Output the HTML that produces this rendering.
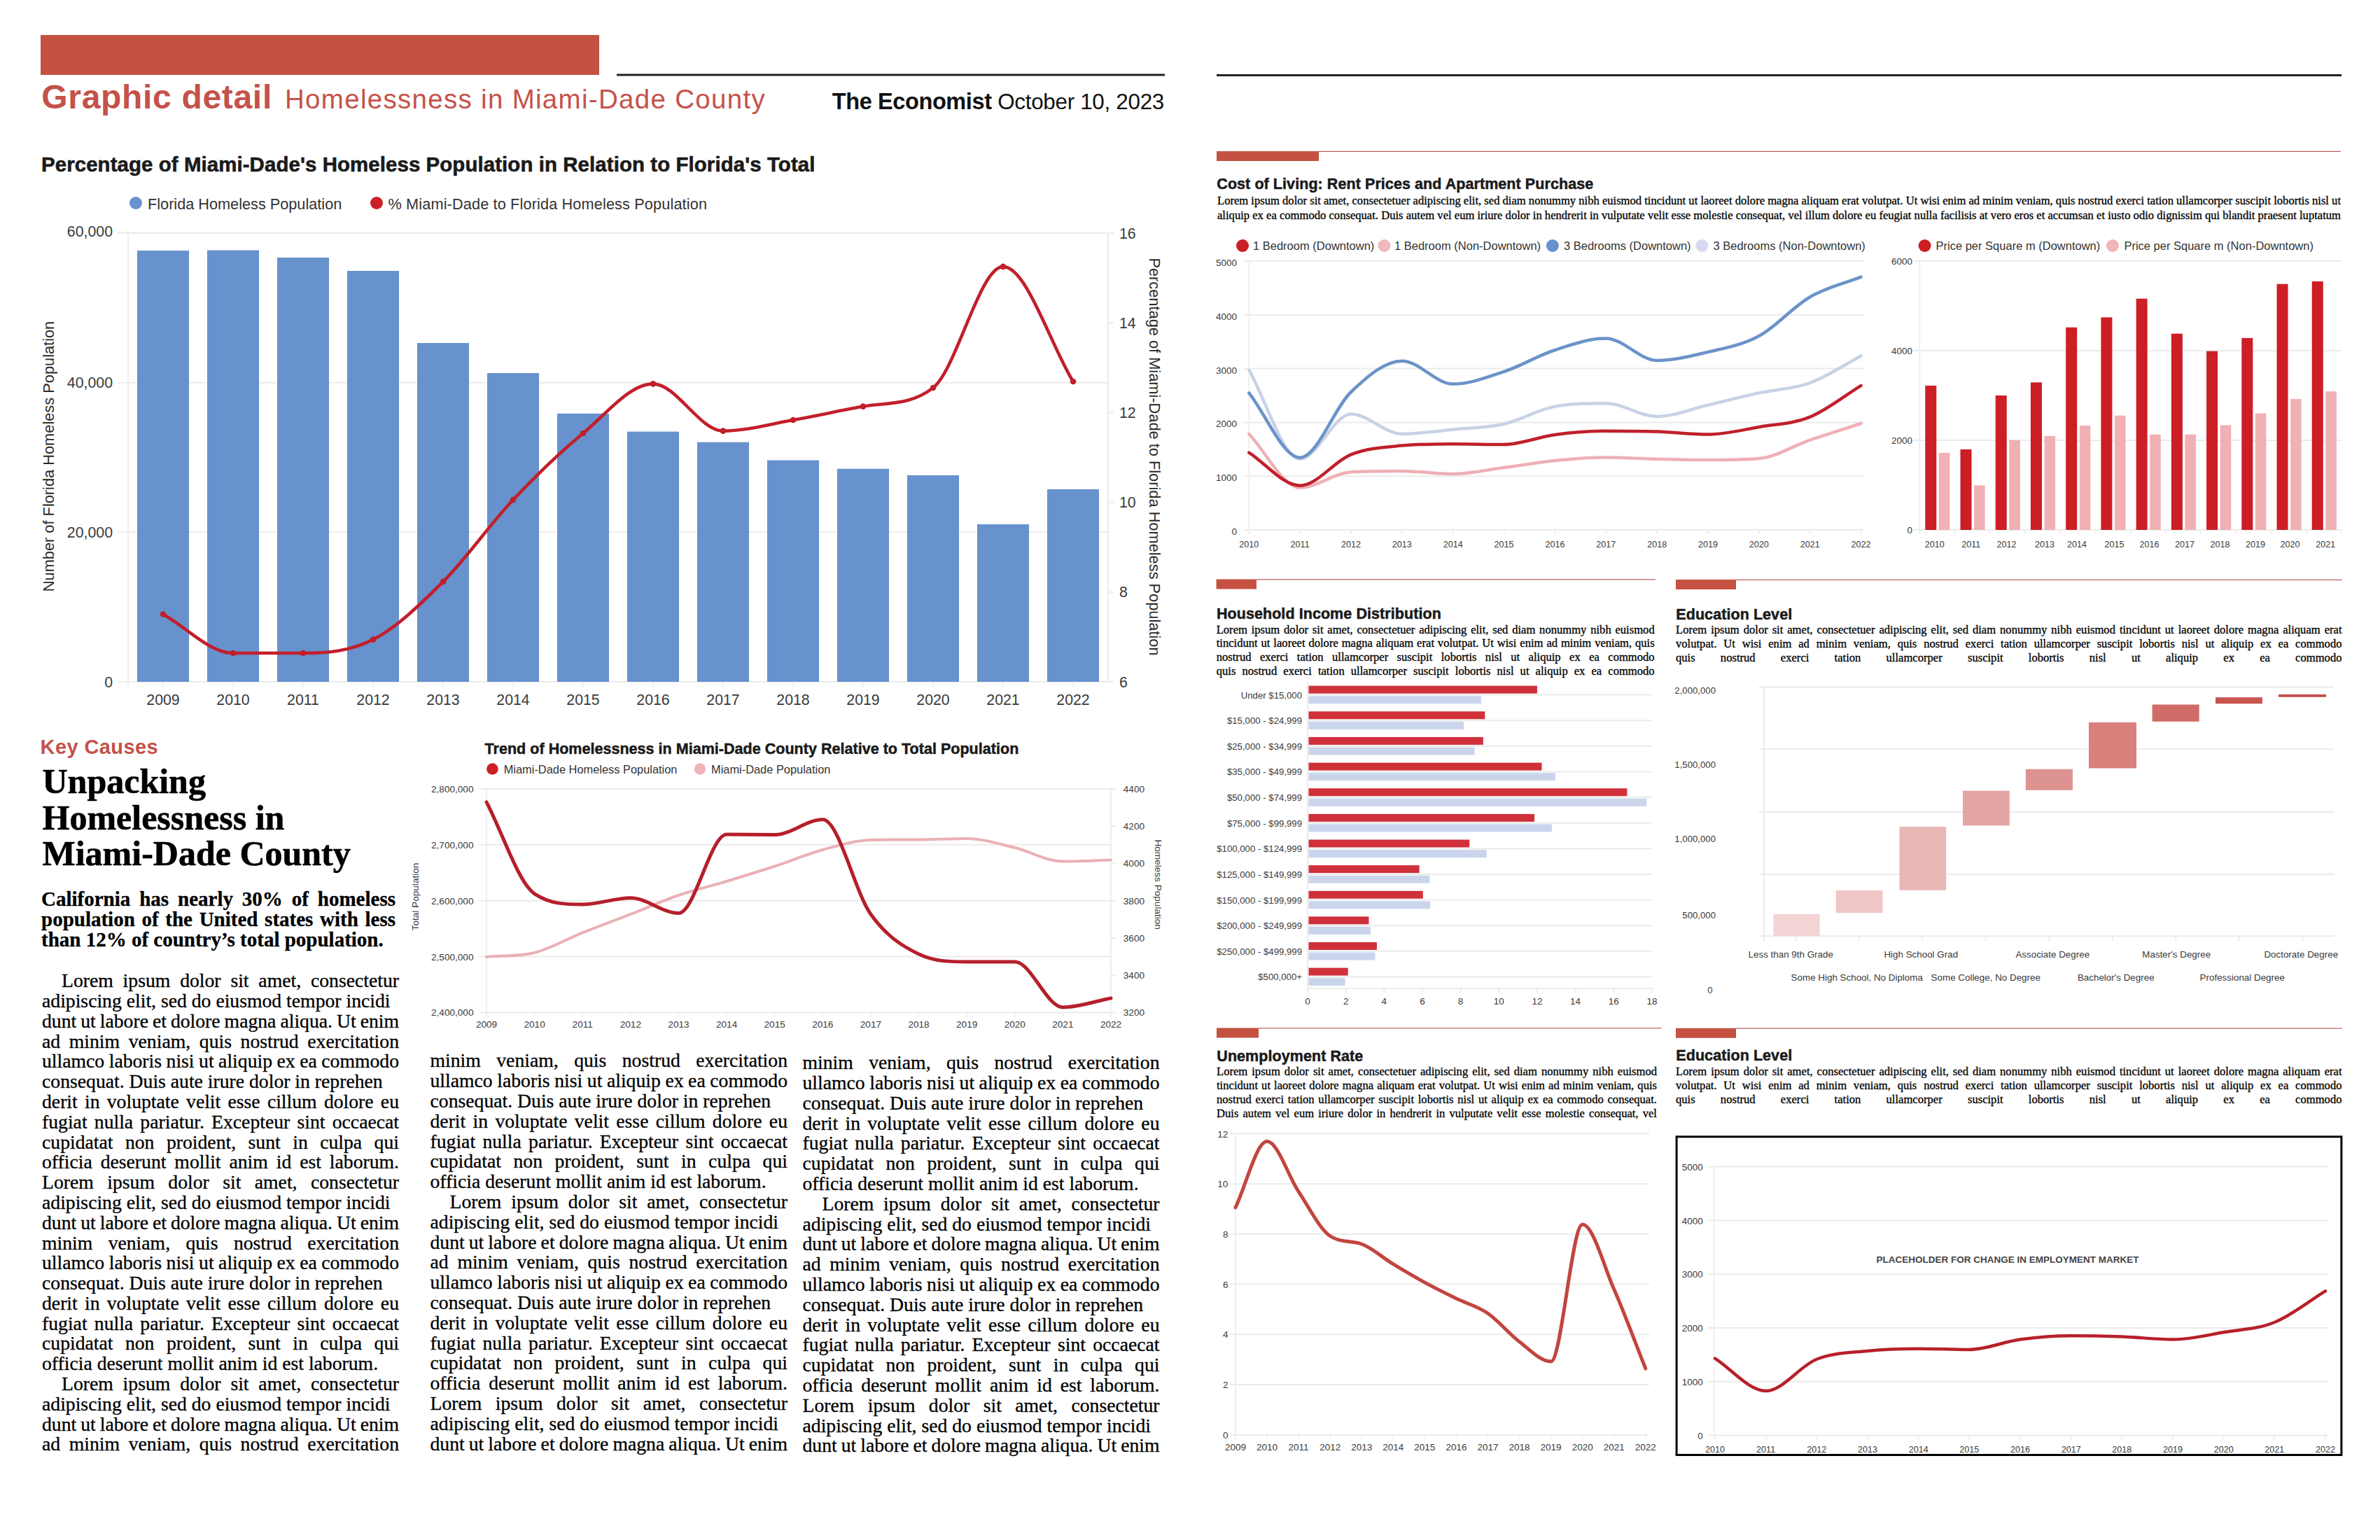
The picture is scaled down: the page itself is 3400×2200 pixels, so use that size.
<!DOCTYPE html>
<html><head><meta charset="utf-8"><title>Graphic detail - Homelessness in Miami-Dade County</title>
<style>
html,body{margin:0;padding:0;background:#fff;}
body{width:3400px;height:2200px;position:relative;overflow:hidden;}
svg{position:absolute;left:0;top:0;}
div{box-sizing:border-box;-webkit-text-stroke:0.3px #000;}
</style></head><body>
<svg width="3400" height="2200" viewBox="0 0 3400 2200">
<rect x="58" y="50" width="798" height="57" fill="#c45142" />
<rect x="881" y="105.5" width="783" height="3" fill="#222" />
<rect x="1738" y="106" width="1607" height="3" fill="#222" />
<text x="59.3" y="155" font-family='"Liberation Sans", Arial, sans-serif' font-size="48" font-weight="700" fill="#c4524a" text-anchor="start" letter-spacing="0.68" >Graphic detail</text>
<text x="407" y="155" font-family='"Liberation Sans", Arial, sans-serif' font-size="38.5" font-weight="400" fill="#c4524a" text-anchor="start" letter-spacing="1.3" >Homelessness in Miami-Dade County</text>
<text x="1663" y="155.5" font-family='"Liberation Sans", Arial, sans-serif' font-size="31" font-weight="400" fill="#111" text-anchor="end" ><tspan font-weight="700" font-size="32.5" letter-spacing="-0.4">The Economist</tspan> <tspan font-size="31.4" letter-spacing="-0.3">October 10, 2023</tspan></text>
<text x="59" y="244.6" font-family='"Liberation Sans", Arial, sans-serif' font-size="29.4" font-weight="700" fill="#1a1a1a" text-anchor="start" letter-spacing="0.1" stroke="#1a1a1a" stroke-width="0.6" >Percentage of Miami-Dade&#39;s Homeless Population in Relation to Florida&#39;s Total</text>
<circle cx="194" cy="290" r="9" fill="#6792cd" />
<text x="211" y="298.5" font-family='"Liberation Sans", Arial, sans-serif' font-size="21.7" font-weight="400" fill="#333" text-anchor="start" >Florida Homeless Population</text>
<circle cx="538" cy="290" r="9" fill="#cc2027" />
<text x="554.5" y="298.5" font-family='"Liberation Sans", Arial, sans-serif' font-size="21.7" font-weight="400" fill="#333" text-anchor="start" letter-spacing="0.14" >% Miami-Dade to Florida Homeless Population</text>
<line x1="168" y1="333" x2="1583" y2="333" stroke="#ebebeb" stroke-width="2" />
<text x="161" y="338" font-family='"Liberation Sans", Arial, sans-serif' font-size="21.3" font-weight="400" fill="#3a3a3a" text-anchor="end" >60,000</text>
<line x1="168" y1="546.67" x2="1583" y2="546.67" stroke="#ebebeb" stroke-width="2" />
<text x="161" y="554.27" font-family='"Liberation Sans", Arial, sans-serif' font-size="21.3" font-weight="400" fill="#3a3a3a" text-anchor="end" >40,000</text>
<line x1="168" y1="760.33" x2="1583" y2="760.33" stroke="#ebebeb" stroke-width="2" />
<text x="161" y="767.93" font-family='"Liberation Sans", Arial, sans-serif' font-size="21.3" font-weight="400" fill="#3a3a3a" text-anchor="end" >20,000</text>
<line x1="168" y1="974" x2="1583" y2="974" stroke="#ebebeb" stroke-width="2" />
<text x="161" y="981.6" font-family='"Liberation Sans", Arial, sans-serif' font-size="21.3" font-weight="400" fill="#3a3a3a" text-anchor="end" >0</text>
<line x1="183" y1="333" x2="183" y2="982" stroke="#efefef" stroke-width="2" />
<line x1="1583" y1="333" x2="1583" y2="974" stroke="#ebebeb" stroke-width="2" />
<line x1="1583" y1="333" x2="1591" y2="333" stroke="#ebebeb" stroke-width="2" />
<text x="1599" y="340.6" font-family='"Liberation Sans", Arial, sans-serif' font-size="21.3" font-weight="400" fill="#3a3a3a" text-anchor="start" >16</text>
<line x1="1583" y1="461.2" x2="1591" y2="461.2" stroke="#ebebeb" stroke-width="2" />
<text x="1599" y="468.8" font-family='"Liberation Sans", Arial, sans-serif' font-size="21.3" font-weight="400" fill="#3a3a3a" text-anchor="start" >14</text>
<line x1="1583" y1="589.4" x2="1591" y2="589.4" stroke="#ebebeb" stroke-width="2" />
<text x="1599" y="597" font-family='"Liberation Sans", Arial, sans-serif' font-size="21.3" font-weight="400" fill="#3a3a3a" text-anchor="start" >12</text>
<line x1="1583" y1="717.6" x2="1591" y2="717.6" stroke="#ebebeb" stroke-width="2" />
<text x="1599" y="725.2" font-family='"Liberation Sans", Arial, sans-serif' font-size="21.3" font-weight="400" fill="#3a3a3a" text-anchor="start" >10</text>
<line x1="1583" y1="845.8" x2="1591" y2="845.8" stroke="#ebebeb" stroke-width="2" />
<text x="1599" y="853.4" font-family='"Liberation Sans", Arial, sans-serif' font-size="21.3" font-weight="400" fill="#3a3a3a" text-anchor="start" >8</text>
<line x1="1583" y1="974" x2="1591" y2="974" stroke="#ebebeb" stroke-width="2" />
<text x="1599" y="981.6" font-family='"Liberation Sans", Arial, sans-serif' font-size="21.3" font-weight="400" fill="#3a3a3a" text-anchor="start" >6</text>
<rect x="196" y="358" width="74" height="616" fill="#6792cd" />
<line x1="233" y1="974" x2="233" y2="982" stroke="#efefef" stroke-width="2" />
<text x="233" y="1007" font-family='"Liberation Sans", Arial, sans-serif' font-size="21.3" font-weight="400" fill="#3a3a3a" text-anchor="middle" >2009</text>
<rect x="296" y="357.5" width="74" height="616.5" fill="#6792cd" />
<line x1="333" y1="974" x2="333" y2="982" stroke="#efefef" stroke-width="2" />
<text x="333" y="1007" font-family='"Liberation Sans", Arial, sans-serif' font-size="21.3" font-weight="400" fill="#3a3a3a" text-anchor="middle" >2010</text>
<rect x="396" y="368" width="74" height="606" fill="#6792cd" />
<line x1="433" y1="974" x2="433" y2="982" stroke="#efefef" stroke-width="2" />
<text x="433" y="1007" font-family='"Liberation Sans", Arial, sans-serif' font-size="21.3" font-weight="400" fill="#3a3a3a" text-anchor="middle" >2011</text>
<rect x="496" y="387" width="74" height="587" fill="#6792cd" />
<line x1="533" y1="974" x2="533" y2="982" stroke="#efefef" stroke-width="2" />
<text x="533" y="1007" font-family='"Liberation Sans", Arial, sans-serif' font-size="21.3" font-weight="400" fill="#3a3a3a" text-anchor="middle" >2012</text>
<rect x="596" y="490" width="74" height="484" fill="#6792cd" />
<line x1="633" y1="974" x2="633" y2="982" stroke="#efefef" stroke-width="2" />
<text x="633" y="1007" font-family='"Liberation Sans", Arial, sans-serif' font-size="21.3" font-weight="400" fill="#3a3a3a" text-anchor="middle" >2013</text>
<rect x="696" y="533" width="74" height="441" fill="#6792cd" />
<line x1="733" y1="974" x2="733" y2="982" stroke="#efefef" stroke-width="2" />
<text x="733" y="1007" font-family='"Liberation Sans", Arial, sans-serif' font-size="21.3" font-weight="400" fill="#3a3a3a" text-anchor="middle" >2014</text>
<rect x="796" y="590.8" width="74" height="383.2" fill="#6792cd" />
<line x1="833" y1="974" x2="833" y2="982" stroke="#efefef" stroke-width="2" />
<text x="833" y="1007" font-family='"Liberation Sans", Arial, sans-serif' font-size="21.3" font-weight="400" fill="#3a3a3a" text-anchor="middle" >2015</text>
<rect x="896" y="616.6" width="74" height="357.4" fill="#6792cd" />
<line x1="933" y1="974" x2="933" y2="982" stroke="#efefef" stroke-width="2" />
<text x="933" y="1007" font-family='"Liberation Sans", Arial, sans-serif' font-size="21.3" font-weight="400" fill="#3a3a3a" text-anchor="middle" >2016</text>
<rect x="996" y="631.7" width="74" height="342.3" fill="#6792cd" />
<line x1="1033" y1="974" x2="1033" y2="982" stroke="#efefef" stroke-width="2" />
<text x="1033" y="1007" font-family='"Liberation Sans", Arial, sans-serif' font-size="21.3" font-weight="400" fill="#3a3a3a" text-anchor="middle" >2017</text>
<rect x="1096" y="657.5" width="74" height="316.5" fill="#6792cd" />
<line x1="1133" y1="974" x2="1133" y2="982" stroke="#efefef" stroke-width="2" />
<text x="1133" y="1007" font-family='"Liberation Sans", Arial, sans-serif' font-size="21.3" font-weight="400" fill="#3a3a3a" text-anchor="middle" >2018</text>
<rect x="1196" y="669.7" width="74" height="304.3" fill="#6792cd" />
<line x1="1233" y1="974" x2="1233" y2="982" stroke="#efefef" stroke-width="2" />
<text x="1233" y="1007" font-family='"Liberation Sans", Arial, sans-serif' font-size="21.3" font-weight="400" fill="#3a3a3a" text-anchor="middle" >2019</text>
<rect x="1296" y="679" width="74" height="295" fill="#6792cd" />
<line x1="1333" y1="974" x2="1333" y2="982" stroke="#efefef" stroke-width="2" />
<text x="1333" y="1007" font-family='"Liberation Sans", Arial, sans-serif' font-size="21.3" font-weight="400" fill="#3a3a3a" text-anchor="middle" >2020</text>
<rect x="1396" y="749" width="74" height="225" fill="#6792cd" />
<line x1="1433" y1="974" x2="1433" y2="982" stroke="#efefef" stroke-width="2" />
<text x="1433" y="1007" font-family='"Liberation Sans", Arial, sans-serif' font-size="21.3" font-weight="400" fill="#3a3a3a" text-anchor="middle" >2021</text>
<rect x="1496" y="699" width="74" height="275" fill="#6792cd" />
<line x1="1533" y1="974" x2="1533" y2="982" stroke="#efefef" stroke-width="2" />
<text x="1533" y="1007" font-family='"Liberation Sans", Arial, sans-serif' font-size="21.3" font-weight="400" fill="#3a3a3a" text-anchor="middle" >2022</text>
<path d="M233,877.5 C266.33,896 299.67,933 333,933 C366.33,933 399.67,933 433,933 C466.33,933 499.67,930.6 533,913.6 C566.33,896.6 599.67,864.27 633,831 C666.33,797.73 699.67,749.33 733,714 C766.33,678.67 799.67,646.6 833,619 C866.33,591.4 899.67,548.4 933,548.4 C966.33,548.4 999.67,615.6 1033,615.6 C1066.33,615.6 1099.67,605.83 1133,600 C1166.33,594.17 1199.67,586.57 1233,580.6 C1266.33,574.63 1299.67,579.92 1333,554 C1366.33,528.08 1399.67,380.9 1433,380.9 C1466.33,380.9 1499.67,490.3 1533,545" fill="none" stroke="#c21f2a" stroke-width="4.6" stroke-linejoin="round" stroke-linecap="round" />
<circle cx="233" cy="877.5" r="4.3" fill="#c21f2a" />
<circle cx="333" cy="933" r="4.3" fill="#c21f2a" />
<circle cx="433" cy="933" r="4.3" fill="#c21f2a" />
<circle cx="533" cy="913.6" r="4.3" fill="#c21f2a" />
<circle cx="633" cy="831" r="4.3" fill="#c21f2a" />
<circle cx="733" cy="714" r="4.3" fill="#c21f2a" />
<circle cx="833" cy="619" r="4.3" fill="#c21f2a" />
<circle cx="933" cy="548.4" r="4.3" fill="#c21f2a" />
<circle cx="1033" cy="615.6" r="4.3" fill="#c21f2a" />
<circle cx="1133" cy="600" r="4.3" fill="#c21f2a" />
<circle cx="1233" cy="580.6" r="4.3" fill="#c21f2a" />
<circle cx="1333" cy="554" r="4.3" fill="#c21f2a" />
<circle cx="1433" cy="380.9" r="4.3" fill="#c21f2a" />
<circle cx="1533" cy="545" r="4.3" fill="#c21f2a" />
<text transform="translate(69,652) rotate(-90)" font-family='"Liberation Sans", Arial, sans-serif' font-size="21.8" font-weight="400" fill="#2a2a2a" text-anchor="middle" dominant-baseline="central">Number of Florida Homeless Population</text>
<text transform="translate(1649.5,652.5) rotate(90)" font-family='"Liberation Sans", Arial, sans-serif' font-size="21.8" font-weight="400" fill="#2a2a2a" text-anchor="middle" dominant-baseline="central">Percentage of Miami-Dade to Florida Homeless Population</text>
<text x="57.6" y="1076.6" font-family='"Liberation Sans", Arial, sans-serif' font-size="29" font-weight="700" fill="#c4524a" text-anchor="start" letter-spacing="0.4" >Key Causes</text>
<text x="60.5" y="1133.4" font-family='"Liberation Serif", "Times New Roman", serif' font-size="50" font-weight="700" fill="#000" text-anchor="start" stroke="#000" stroke-width="0.6" >Unpacking</text>
<text x="60.5" y="1184.5" font-family='"Liberation Serif", "Times New Roman", serif' font-size="50" font-weight="700" fill="#000" text-anchor="start" stroke="#000" stroke-width="0.6" >Homelessness in</text>
<text x="60.5" y="1236" font-family='"Liberation Serif", "Times New Roman", serif' font-size="50" font-weight="700" fill="#000" text-anchor="start" stroke="#000" stroke-width="0.6" >Miami-Dade County</text>
<text x="692.6" y="1076.5" font-family='"Liberation Sans", Arial, sans-serif' font-size="21.5" font-weight="700" fill="#1a1a1a" text-anchor="start" letter-spacing="0.03" stroke="#1a1a1a" stroke-width="0.5" >Trend of Homelessness in Miami-Dade County Relative to Total Population</text>
<circle cx="703.4" cy="1098.5" r="8.3" fill="#cc1f26" />
<text x="719.7" y="1104.6" font-family='"Liberation Sans", Arial, sans-serif' font-size="16.4" font-weight="400" fill="#333" text-anchor="start" >Miami-Dade Homeless Population</text>
<circle cx="1000" cy="1098.5" r="8.2" fill="#f0b4b8" />
<text x="1016" y="1104.6" font-family='"Liberation Sans", Arial, sans-serif' font-size="16.4" font-weight="400" fill="#333" text-anchor="start" >Miami-Dade Population</text>
<line x1="685" y1="1127" x2="1587" y2="1127" stroke="#ebebeb" stroke-width="2" />
<text x="676.5" y="1132" font-family='"Liberation Sans", Arial, sans-serif' font-size="13.6" font-weight="400" fill="#3a3a3a" text-anchor="end" >2,800,000</text>
<line x1="685" y1="1206.85" x2="1587" y2="1206.85" stroke="#ebebeb" stroke-width="2" />
<text x="676.5" y="1211.85" font-family='"Liberation Sans", Arial, sans-serif' font-size="13.6" font-weight="400" fill="#3a3a3a" text-anchor="end" >2,700,000</text>
<line x1="685" y1="1286.7" x2="1587" y2="1286.7" stroke="#ebebeb" stroke-width="2" />
<text x="676.5" y="1291.7" font-family='"Liberation Sans", Arial, sans-serif' font-size="13.6" font-weight="400" fill="#3a3a3a" text-anchor="end" >2,600,000</text>
<line x1="685" y1="1366.55" x2="1587" y2="1366.55" stroke="#ebebeb" stroke-width="2" />
<text x="676.5" y="1371.55" font-family='"Liberation Sans", Arial, sans-serif' font-size="13.6" font-weight="400" fill="#3a3a3a" text-anchor="end" >2,500,000</text>
<line x1="685" y1="1446.4" x2="1587" y2="1446.4" stroke="#ebebeb" stroke-width="2" />
<text x="676.5" y="1451.4" font-family='"Liberation Sans", Arial, sans-serif' font-size="13.6" font-weight="400" fill="#3a3a3a" text-anchor="end" >2,400,000</text>
<line x1="695" y1="1127" x2="695" y2="1453.4" stroke="#efefef" stroke-width="2" />
<line x1="1587" y1="1127" x2="1587" y2="1453.4" stroke="#efefef" stroke-width="2" />
<line x1="1587" y1="1127" x2="1594" y2="1127" stroke="#ebebeb" stroke-width="2" />
<text x="1604.8" y="1132" font-family='"Liberation Sans", Arial, sans-serif' font-size="13.6" font-weight="400" fill="#3a3a3a" text-anchor="start" >4400</text>
<line x1="1587" y1="1180.23" x2="1594" y2="1180.23" stroke="#ebebeb" stroke-width="2" />
<text x="1604.8" y="1185.23" font-family='"Liberation Sans", Arial, sans-serif' font-size="13.6" font-weight="400" fill="#3a3a3a" text-anchor="start" >4200</text>
<line x1="1587" y1="1233.47" x2="1594" y2="1233.47" stroke="#ebebeb" stroke-width="2" />
<text x="1604.8" y="1238.47" font-family='"Liberation Sans", Arial, sans-serif' font-size="13.6" font-weight="400" fill="#3a3a3a" text-anchor="start" >4000</text>
<line x1="1587" y1="1286.7" x2="1594" y2="1286.7" stroke="#ebebeb" stroke-width="2" />
<text x="1604.8" y="1291.7" font-family='"Liberation Sans", Arial, sans-serif' font-size="13.6" font-weight="400" fill="#3a3a3a" text-anchor="start" >3800</text>
<line x1="1587" y1="1339.93" x2="1594" y2="1339.93" stroke="#ebebeb" stroke-width="2" />
<text x="1604.8" y="1344.93" font-family='"Liberation Sans", Arial, sans-serif' font-size="13.6" font-weight="400" fill="#3a3a3a" text-anchor="start" >3600</text>
<line x1="1587" y1="1393.17" x2="1594" y2="1393.17" stroke="#ebebeb" stroke-width="2" />
<text x="1604.8" y="1398.17" font-family='"Liberation Sans", Arial, sans-serif' font-size="13.6" font-weight="400" fill="#3a3a3a" text-anchor="start" >3400</text>
<line x1="1587" y1="1446.4" x2="1594" y2="1446.4" stroke="#ebebeb" stroke-width="2" />
<text x="1604.8" y="1451.4" font-family='"Liberation Sans", Arial, sans-serif' font-size="13.6" font-weight="400" fill="#3a3a3a" text-anchor="start" >3200</text>
<line x1="695" y1="1446.4" x2="695" y2="1453.4" stroke="#efefef" stroke-width="2" />
<text x="695" y="1468" font-family='"Liberation Sans", Arial, sans-serif' font-size="13.6" font-weight="400" fill="#3a3a3a" text-anchor="middle" >2009</text>
<line x1="763.62" y1="1446.4" x2="763.62" y2="1453.4" stroke="#efefef" stroke-width="2" />
<text x="763.62" y="1468" font-family='"Liberation Sans", Arial, sans-serif' font-size="13.6" font-weight="400" fill="#3a3a3a" text-anchor="middle" >2010</text>
<line x1="832.23" y1="1446.4" x2="832.23" y2="1453.4" stroke="#efefef" stroke-width="2" />
<text x="832.23" y="1468" font-family='"Liberation Sans", Arial, sans-serif' font-size="13.6" font-weight="400" fill="#3a3a3a" text-anchor="middle" >2011</text>
<line x1="900.85" y1="1446.4" x2="900.85" y2="1453.4" stroke="#efefef" stroke-width="2" />
<text x="900.85" y="1468" font-family='"Liberation Sans", Arial, sans-serif' font-size="13.6" font-weight="400" fill="#3a3a3a" text-anchor="middle" >2012</text>
<line x1="969.46" y1="1446.4" x2="969.46" y2="1453.4" stroke="#efefef" stroke-width="2" />
<text x="969.46" y="1468" font-family='"Liberation Sans", Arial, sans-serif' font-size="13.6" font-weight="400" fill="#3a3a3a" text-anchor="middle" >2013</text>
<line x1="1038.08" y1="1446.4" x2="1038.08" y2="1453.4" stroke="#efefef" stroke-width="2" />
<text x="1038.08" y="1468" font-family='"Liberation Sans", Arial, sans-serif' font-size="13.6" font-weight="400" fill="#3a3a3a" text-anchor="middle" >2014</text>
<line x1="1106.69" y1="1446.4" x2="1106.69" y2="1453.4" stroke="#efefef" stroke-width="2" />
<text x="1106.69" y="1468" font-family='"Liberation Sans", Arial, sans-serif' font-size="13.6" font-weight="400" fill="#3a3a3a" text-anchor="middle" >2015</text>
<line x1="1175.31" y1="1446.4" x2="1175.31" y2="1453.4" stroke="#efefef" stroke-width="2" />
<text x="1175.31" y="1468" font-family='"Liberation Sans", Arial, sans-serif' font-size="13.6" font-weight="400" fill="#3a3a3a" text-anchor="middle" >2016</text>
<line x1="1243.92" y1="1446.4" x2="1243.92" y2="1453.4" stroke="#efefef" stroke-width="2" />
<text x="1243.92" y="1468" font-family='"Liberation Sans", Arial, sans-serif' font-size="13.6" font-weight="400" fill="#3a3a3a" text-anchor="middle" >2017</text>
<line x1="1312.54" y1="1446.4" x2="1312.54" y2="1453.4" stroke="#efefef" stroke-width="2" />
<text x="1312.54" y="1468" font-family='"Liberation Sans", Arial, sans-serif' font-size="13.6" font-weight="400" fill="#3a3a3a" text-anchor="middle" >2018</text>
<line x1="1381.15" y1="1446.4" x2="1381.15" y2="1453.4" stroke="#efefef" stroke-width="2" />
<text x="1381.15" y="1468" font-family='"Liberation Sans", Arial, sans-serif' font-size="13.6" font-weight="400" fill="#3a3a3a" text-anchor="middle" >2019</text>
<line x1="1449.77" y1="1446.4" x2="1449.77" y2="1453.4" stroke="#efefef" stroke-width="2" />
<text x="1449.77" y="1468" font-family='"Liberation Sans", Arial, sans-serif' font-size="13.6" font-weight="400" fill="#3a3a3a" text-anchor="middle" >2020</text>
<line x1="1518.38" y1="1446.4" x2="1518.38" y2="1453.4" stroke="#efefef" stroke-width="2" />
<text x="1518.38" y="1468" font-family='"Liberation Sans", Arial, sans-serif' font-size="13.6" font-weight="400" fill="#3a3a3a" text-anchor="middle" >2021</text>
<line x1="1587" y1="1446.4" x2="1587" y2="1453.4" stroke="#efefef" stroke-width="2" />
<text x="1587" y="1468" font-family='"Liberation Sans", Arial, sans-serif' font-size="13.6" font-weight="400" fill="#3a3a3a" text-anchor="middle" >2022</text>
<path d="M695,1367 C717.87,1365.03 740.74,1366.67 763.62,1361 C786.49,1355.33 809.36,1341.57 832.23,1332.4 C855.1,1323.23 877.97,1314.9 900.85,1306 C923.72,1297.1 946.59,1286.83 969.46,1279 C992.33,1271.17 1015.21,1265.92 1038.08,1259 C1060.95,1252.08 1083.82,1245 1106.69,1237.5 C1129.56,1230 1152.44,1220.25 1175.31,1214 C1198.18,1207.75 1221.05,1200.59 1243.92,1200 C1266.79,1199.41 1289.67,1199.48 1312.54,1199.4 C1335.41,1199.32 1358.28,1198 1381.15,1198 C1404.03,1198 1426.9,1205.57 1449.77,1211 C1472.64,1216.43 1495.51,1230.6 1518.38,1230.6 C1541.26,1230.6 1564.13,1229.27 1587,1228.6" fill="none" stroke="#eab0b5" stroke-width="4" stroke-linejoin="round" stroke-linecap="round" />
<path d="M695,1145.8 C717.87,1189.47 740.74,1261.6 763.62,1276.8 C786.49,1292 809.36,1292 832.23,1292 C855.1,1292 877.97,1282.7 900.85,1282.7 C923.72,1282.7 946.59,1304.6 969.46,1304.6 C992.33,1304.6 1015.21,1192 1038.08,1192 C1060.95,1192 1083.82,1192.6 1106.69,1192.6 C1129.56,1192.6 1152.44,1170.7 1175.31,1170.7 C1198.18,1170.7 1221.05,1273.95 1243.92,1306 C1266.79,1338.05 1289.67,1352 1312.54,1363 C1335.41,1374 1358.28,1374 1381.15,1374 C1404.03,1374 1426.9,1374 1449.77,1374 C1472.64,1374 1495.51,1439 1518.38,1439 C1541.26,1439 1564.13,1430.33 1587,1426" fill="none" stroke="#b51f2a" stroke-width="5" stroke-linejoin="round" stroke-linecap="round" />
<text transform="translate(593,1281) rotate(-90)" font-family='"Liberation Sans", Arial, sans-serif' font-size="13.6" font-weight="400" fill="#3a3a3a" text-anchor="middle" dominant-baseline="central">Total Population</text>
<text transform="translate(1654.6,1263.7) rotate(90)" font-family='"Liberation Sans", Arial, sans-serif' font-size="13.6" font-weight="400" fill="#3a3a3a" text-anchor="middle" dominant-baseline="central">Homeless Population</text>
<rect x="1738" y="216" width="146" height="14" fill="#c45142" />
<rect x="1884" y="215.8" width="1460" height="1.1" fill="#b44a4e" />
<text x="1738.3" y="270.2" font-family='"Liberation Sans", Arial, sans-serif' font-size="21.5" font-weight="700" fill="#1a1a1a" text-anchor="start" letter-spacing="0.07" stroke="#1a1a1a" stroke-width="0.5" >Cost of Living: Rent Prices and Apartment Purchase</text>
<circle cx="1775" cy="351" r="9" fill="#cc2027" />
<text x="1790" y="357.2" font-family='"Liberation Sans", Arial, sans-serif' font-size="16.5" font-weight="400" fill="#333" text-anchor="start" >1 Bedroom (Downtown)</text>
<circle cx="1977.5" cy="351" r="9" fill="#f0b9bc" />
<text x="1992" y="357.2" font-family='"Liberation Sans", Arial, sans-serif' font-size="16.5" font-weight="400" fill="#333" text-anchor="start" >1 Bedroom (Non-Downtown)</text>
<circle cx="2217.9" cy="351" r="9" fill="#6692d0" />
<text x="2234" y="357.2" font-family='"Liberation Sans", Arial, sans-serif' font-size="16.5" font-weight="400" fill="#333" text-anchor="start" >3 Bedrooms (Downtown)</text>
<circle cx="2431.4" cy="351" r="9" fill="#d8d8f2" />
<text x="2447.5" y="357.2" font-family='"Liberation Sans", Arial, sans-serif' font-size="16.5" font-weight="400" fill="#333" text-anchor="start" >3 Bedrooms (Non-Downtown)</text>
<circle cx="2749.6" cy="351" r="9" fill="#cc1e24" />
<text x="2765.5" y="357.2" font-family='"Liberation Sans", Arial, sans-serif' font-size="16.5" font-weight="400" fill="#333" text-anchor="start" >Price per Square m (Downtown)</text>
<circle cx="3018" cy="351" r="9" fill="#f0b5b8" />
<text x="3034.4" y="357.2" font-family='"Liberation Sans", Arial, sans-serif' font-size="16.5" font-weight="400" fill="#333" text-anchor="start" >Price per Square m (Non-Downtown)</text>
<line x1="1776" y1="373" x2="2663.4" y2="373" stroke="#ebebeb" stroke-width="2" />
<text x="1767" y="380" font-family='"Liberation Sans", Arial, sans-serif' font-size="13.5" font-weight="400" fill="#3a3a3a" text-anchor="end" >5000</text>
<line x1="1776" y1="449.8" x2="2663.4" y2="449.8" stroke="#ebebeb" stroke-width="2" />
<text x="1767" y="456.8" font-family='"Liberation Sans", Arial, sans-serif' font-size="13.5" font-weight="400" fill="#3a3a3a" text-anchor="end" >4000</text>
<line x1="1776" y1="526.6" x2="2663.4" y2="526.6" stroke="#ebebeb" stroke-width="2" />
<text x="1767" y="533.6" font-family='"Liberation Sans", Arial, sans-serif' font-size="13.5" font-weight="400" fill="#3a3a3a" text-anchor="end" >3000</text>
<line x1="1776" y1="603.4" x2="2663.4" y2="603.4" stroke="#ebebeb" stroke-width="2" />
<text x="1767" y="610.4" font-family='"Liberation Sans", Arial, sans-serif' font-size="13.5" font-weight="400" fill="#3a3a3a" text-anchor="end" >2000</text>
<line x1="1776" y1="680.2" x2="2663.4" y2="680.2" stroke="#ebebeb" stroke-width="2" />
<text x="1767" y="687.2" font-family='"Liberation Sans", Arial, sans-serif' font-size="13.5" font-weight="400" fill="#3a3a3a" text-anchor="end" >1000</text>
<line x1="1776" y1="757" x2="2663.4" y2="757" stroke="#ebebeb" stroke-width="2" />
<text x="1767" y="764" font-family='"Liberation Sans", Arial, sans-serif' font-size="13.5" font-weight="400" fill="#3a3a3a" text-anchor="end" >0</text>
<line x1="1784.3" y1="373" x2="1784.3" y2="763" stroke="#efefef" stroke-width="2" />
<line x1="1784.3" y1="757" x2="1784.3" y2="763" stroke="#efefef" stroke-width="2" />
<text x="1784.3" y="782" font-family='"Liberation Sans", Arial, sans-serif' font-size="12.6" font-weight="400" fill="#3a3a3a" text-anchor="middle" >2010</text>
<line x1="1857.16" y1="757" x2="1857.16" y2="763" stroke="#efefef" stroke-width="2" />
<text x="1857.16" y="782" font-family='"Liberation Sans", Arial, sans-serif' font-size="12.6" font-weight="400" fill="#3a3a3a" text-anchor="middle" >2011</text>
<line x1="1930.02" y1="757" x2="1930.02" y2="763" stroke="#efefef" stroke-width="2" />
<text x="1930.02" y="782" font-family='"Liberation Sans", Arial, sans-serif' font-size="12.6" font-weight="400" fill="#3a3a3a" text-anchor="middle" >2012</text>
<line x1="2002.88" y1="757" x2="2002.88" y2="763" stroke="#efefef" stroke-width="2" />
<text x="2002.88" y="782" font-family='"Liberation Sans", Arial, sans-serif' font-size="12.6" font-weight="400" fill="#3a3a3a" text-anchor="middle" >2013</text>
<line x1="2075.73" y1="757" x2="2075.73" y2="763" stroke="#efefef" stroke-width="2" />
<text x="2075.73" y="782" font-family='"Liberation Sans", Arial, sans-serif' font-size="12.6" font-weight="400" fill="#3a3a3a" text-anchor="middle" >2014</text>
<line x1="2148.59" y1="757" x2="2148.59" y2="763" stroke="#efefef" stroke-width="2" />
<text x="2148.59" y="782" font-family='"Liberation Sans", Arial, sans-serif' font-size="12.6" font-weight="400" fill="#3a3a3a" text-anchor="middle" >2015</text>
<line x1="2221.45" y1="757" x2="2221.45" y2="763" stroke="#efefef" stroke-width="2" />
<text x="2221.45" y="782" font-family='"Liberation Sans", Arial, sans-serif' font-size="12.6" font-weight="400" fill="#3a3a3a" text-anchor="middle" >2016</text>
<line x1="2294.31" y1="757" x2="2294.31" y2="763" stroke="#efefef" stroke-width="2" />
<text x="2294.31" y="782" font-family='"Liberation Sans", Arial, sans-serif' font-size="12.6" font-weight="400" fill="#3a3a3a" text-anchor="middle" >2017</text>
<line x1="2367.17" y1="757" x2="2367.17" y2="763" stroke="#efefef" stroke-width="2" />
<text x="2367.17" y="782" font-family='"Liberation Sans", Arial, sans-serif' font-size="12.6" font-weight="400" fill="#3a3a3a" text-anchor="middle" >2018</text>
<line x1="2440.03" y1="757" x2="2440.03" y2="763" stroke="#efefef" stroke-width="2" />
<text x="2440.03" y="782" font-family='"Liberation Sans", Arial, sans-serif' font-size="12.6" font-weight="400" fill="#3a3a3a" text-anchor="middle" >2019</text>
<line x1="2512.88" y1="757" x2="2512.88" y2="763" stroke="#efefef" stroke-width="2" />
<text x="2512.88" y="782" font-family='"Liberation Sans", Arial, sans-serif' font-size="12.6" font-weight="400" fill="#3a3a3a" text-anchor="middle" >2020</text>
<line x1="2585.74" y1="757" x2="2585.74" y2="763" stroke="#efefef" stroke-width="2" />
<text x="2585.74" y="782" font-family='"Liberation Sans", Arial, sans-serif' font-size="12.6" font-weight="400" fill="#3a3a3a" text-anchor="middle" >2021</text>
<line x1="2658.6" y1="757" x2="2658.6" y2="763" stroke="#efefef" stroke-width="2" />
<text x="2658.6" y="782" font-family='"Liberation Sans", Arial, sans-serif' font-size="12.6" font-weight="400" fill="#3a3a3a" text-anchor="middle" >2022</text>
<path d="M1784.3,528.6 C1808.59,570.97 1832.87,655.7 1857.16,655.7 C1881.44,655.7 1905.73,591.4 1930.02,591.4 C1954.3,591.4 1978.59,620 2002.88,620 C2027.16,620 2051.45,615.78 2075.73,613.4 C2100.02,611.02 2124.31,611.17 2148.59,605.7 C2172.88,600.23 2197.16,584.9 2221.45,580.6 C2245.74,576.3 2270.02,576.3 2294.31,576.3 C2318.59,576.3 2342.88,594.9 2367.17,594.9 C2391.45,594.9 2415.74,584.18 2440.03,578.6 C2464.31,573.02 2488.6,566.67 2512.88,561.4 C2537.17,556.13 2561.46,555.8 2585.74,547 C2610.03,538.2 2634.31,521.4 2658.6,508.6" fill="none" stroke="#c8d2e6" stroke-width="4.5" stroke-linejoin="round" stroke-linecap="round" />
<path d="M1784.3,561.4 C1808.59,592.17 1832.87,653.7 1857.16,653.7 C1881.44,653.7 1905.73,583 1930.02,560 C1954.3,537 1978.59,515.7 2002.88,515.7 C2027.16,515.7 2051.45,548.6 2075.73,548.6 C2100.02,548.6 2124.31,539 2148.59,530.9 C2172.88,522.8 2197.16,507.92 2221.45,500 C2245.74,492.08 2270.02,483.4 2294.31,483.4 C2318.59,483.4 2342.88,515 2367.17,515 C2391.45,515 2415.74,508.73 2440.03,502.9 C2464.31,497.07 2488.6,493.1 2512.88,480 C2537.17,466.9 2561.46,438.35 2585.74,424.3 C2610.03,410.25 2634.31,405.23 2658.6,395.7" fill="none" stroke="#6a93c8" stroke-width="4.5" stroke-linejoin="round" stroke-linecap="round" />
<path d="M1784.3,620 C1808.59,645.53 1832.87,696.6 1857.16,696.6 C1881.44,696.6 1905.73,675.7 1930.02,674.3 C1954.3,672.9 1978.59,672.9 2002.88,672.9 C2027.16,672.9 2051.45,677 2075.73,677 C2100.02,677 2124.31,671.17 2148.59,668 C2172.88,664.83 2197.16,660.43 2221.45,658 C2245.74,655.57 2270.02,653.4 2294.31,653.4 C2318.59,653.4 2342.88,655.1 2367.17,655.7 C2391.45,656.3 2415.74,657 2440.03,657 C2464.31,657 2488.6,657 2512.88,655 C2537.17,653 2561.46,636.93 2585.74,628.6 C2610.03,620.27 2634.31,612.87 2658.6,605" fill="none" stroke="#eeb0b5" stroke-width="4.5" stroke-linejoin="round" stroke-linecap="round" />
<path d="M1784.3,646.6 C1808.59,662.3 1832.87,693.7 1857.16,693.7 C1881.44,693.7 1905.73,658.92 1930.02,649.4 C1954.3,639.88 1978.59,638.9 2002.88,636.6 C2027.16,634.3 2051.45,634.3 2075.73,634.3 C2100.02,634.3 2124.31,635 2148.59,635 C2172.88,635 2197.16,624.12 2221.45,620.9 C2245.74,617.68 2270.02,615.7 2294.31,615.7 C2318.59,615.7 2342.88,615.78 2367.17,616.6 C2391.45,617.42 2415.74,620.6 2440.03,620.6 C2464.31,620.6 2488.6,614.15 2512.88,610 C2537.17,605.85 2561.46,605.55 2585.74,595.7 C2610.03,585.85 2634.31,565.83 2658.6,550.9" fill="none" stroke="#c0202a" stroke-width="4.5" stroke-linejoin="round" stroke-linecap="round" />
<line x1="2734" y1="373" x2="3345" y2="373" stroke="#ebebeb" stroke-width="2" />
<text x="2732" y="378" font-family='"Liberation Sans", Arial, sans-serif' font-size="13.5" font-weight="400" fill="#3a3a3a" text-anchor="end" >6000</text>
<line x1="2734" y1="501" x2="3345" y2="501" stroke="#ebebeb" stroke-width="2" />
<text x="2732" y="506" font-family='"Liberation Sans", Arial, sans-serif' font-size="13.5" font-weight="400" fill="#3a3a3a" text-anchor="end" >4000</text>
<line x1="2734" y1="629" x2="3345" y2="629" stroke="#ebebeb" stroke-width="2" />
<text x="2732" y="634" font-family='"Liberation Sans", Arial, sans-serif' font-size="13.5" font-weight="400" fill="#3a3a3a" text-anchor="end" >2000</text>
<line x1="2734" y1="757" x2="3345" y2="757" stroke="#ebebeb" stroke-width="2" />
<text x="2732" y="762" font-family='"Liberation Sans", Arial, sans-serif' font-size="13.5" font-weight="400" fill="#3a3a3a" text-anchor="end" >0</text>
<line x1="2742.3" y1="373" x2="2742.3" y2="763" stroke="#efefef" stroke-width="2" />
<rect x="2750.3" y="550.92" width="16" height="206.08" fill="#cc1e24" />
<rect x="2769.9" y="646.98" width="15.5" height="110.02" fill="#f0b0b4" />
<line x1="2792.53" y1="757" x2="2792.53" y2="763" stroke="#efefef" stroke-width="2" />
<text x="2763.7" y="782" font-family='"Liberation Sans", Arial, sans-serif' font-size="12.6" font-weight="400" fill="#3a3a3a" text-anchor="middle" >2010</text>
<rect x="2800.53" y="641.99" width="16" height="115.01" fill="#cc1e24" />
<rect x="2820.12" y="693.38" width="15.5" height="63.62" fill="#f0b0b4" />
<line x1="2842.75" y1="757" x2="2842.75" y2="763" stroke="#efefef" stroke-width="2" />
<text x="2815.7" y="782" font-family='"Liberation Sans", Arial, sans-serif' font-size="12.6" font-weight="400" fill="#3a3a3a" text-anchor="middle" >2011</text>
<rect x="2850.75" y="565" width="16" height="192" fill="#cc1e24" />
<rect x="2870.35" y="629" width="15.5" height="128" fill="#f0b0b4" />
<line x1="2892.97" y1="757" x2="2892.97" y2="763" stroke="#efefef" stroke-width="2" />
<text x="2866.6" y="782" font-family='"Liberation Sans", Arial, sans-serif' font-size="12.6" font-weight="400" fill="#3a3a3a" text-anchor="middle" >2012</text>
<rect x="2900.98" y="546.31" width="16" height="210.69" fill="#cc1e24" />
<rect x="2920.58" y="622.92" width="15.5" height="134.08" fill="#f0b0b4" />
<line x1="2943.2" y1="757" x2="2943.2" y2="763" stroke="#efefef" stroke-width="2" />
<text x="2920.9" y="782" font-family='"Liberation Sans", Arial, sans-serif' font-size="12.6" font-weight="400" fill="#3a3a3a" text-anchor="middle" >2013</text>
<rect x="2951.2" y="467.72" width="16" height="289.28" fill="#cc1e24" />
<rect x="2970.8" y="608.01" width="15.5" height="148.99" fill="#f0b0b4" />
<line x1="2993.43" y1="757" x2="2993.43" y2="763" stroke="#efefef" stroke-width="2" />
<text x="2967" y="782" font-family='"Liberation Sans", Arial, sans-serif' font-size="12.6" font-weight="400" fill="#3a3a3a" text-anchor="middle" >2014</text>
<rect x="3001.43" y="453.38" width="16" height="303.62" fill="#cc1e24" />
<rect x="3021.03" y="593.67" width="15.5" height="163.33" fill="#f0b0b4" />
<line x1="3043.65" y1="757" x2="3043.65" y2="763" stroke="#efefef" stroke-width="2" />
<text x="3020.6" y="782" font-family='"Liberation Sans", Arial, sans-serif' font-size="12.6" font-weight="400" fill="#3a3a3a" text-anchor="middle" >2015</text>
<rect x="3051.65" y="426.63" width="16" height="330.37" fill="#cc1e24" />
<rect x="3071.25" y="620.62" width="15.5" height="136.38" fill="#f0b0b4" />
<line x1="3093.88" y1="757" x2="3093.88" y2="763" stroke="#efefef" stroke-width="2" />
<text x="3070.6" y="782" font-family='"Liberation Sans", Arial, sans-serif' font-size="12.6" font-weight="400" fill="#3a3a3a" text-anchor="middle" >2016</text>
<rect x="3101.88" y="476.62" width="16" height="280.38" fill="#cc1e24" />
<rect x="3121.47" y="620.62" width="15.5" height="136.38" fill="#f0b0b4" />
<line x1="3144.1" y1="757" x2="3144.1" y2="763" stroke="#efefef" stroke-width="2" />
<text x="3120.9" y="782" font-family='"Liberation Sans", Arial, sans-serif' font-size="12.6" font-weight="400" fill="#3a3a3a" text-anchor="middle" >2017</text>
<rect x="3152.1" y="501.64" width="16" height="255.36" fill="#cc1e24" />
<rect x="3171.7" y="607.43" width="15.5" height="149.57" fill="#f0b0b4" />
<line x1="3194.32" y1="757" x2="3194.32" y2="763" stroke="#efefef" stroke-width="2" />
<text x="3171.4" y="782" font-family='"Liberation Sans", Arial, sans-serif' font-size="12.6" font-weight="400" fill="#3a3a3a" text-anchor="middle" >2018</text>
<rect x="3202.32" y="482.89" width="16" height="274.11" fill="#cc1e24" />
<rect x="3221.92" y="590.6" width="15.5" height="166.4" fill="#f0b0b4" />
<line x1="3244.55" y1="757" x2="3244.55" y2="763" stroke="#efefef" stroke-width="2" />
<text x="3222" y="782" font-family='"Liberation Sans", Arial, sans-serif' font-size="12.6" font-weight="400" fill="#3a3a3a" text-anchor="middle" >2019</text>
<rect x="3252.55" y="405.7" width="16" height="351.3" fill="#cc1e24" />
<rect x="3272.15" y="569.99" width="15.5" height="187.01" fill="#f0b0b4" />
<line x1="3294.78" y1="757" x2="3294.78" y2="763" stroke="#efefef" stroke-width="2" />
<text x="3271.4" y="782" font-family='"Liberation Sans", Arial, sans-serif' font-size="12.6" font-weight="400" fill="#3a3a3a" text-anchor="middle" >2020</text>
<rect x="3302.78" y="401.99" width="16" height="355.01" fill="#cc1e24" />
<rect x="3322.38" y="559.11" width="15.5" height="197.89" fill="#f0b0b4" />
<line x1="3345" y1="757" x2="3345" y2="763" stroke="#efefef" stroke-width="2" />
<text x="3322.3" y="782" font-family='"Liberation Sans", Arial, sans-serif' font-size="12.6" font-weight="400" fill="#3a3a3a" text-anchor="middle" >2021</text>
<rect x="1737.6" y="827.5" width="57.4" height="14" fill="#c45142" />
<rect x="1795" y="827.3" width="570" height="1.1" fill="#b44a4e" />
<text x="1737.9" y="883.9" font-family='"Liberation Sans", Arial, sans-serif' font-size="21.5" font-weight="700" fill="#1a1a1a" text-anchor="start" letter-spacing="0.07" stroke="#1a1a1a" stroke-width="0.5" >Household Income Distribution</text>
<line x1="1868" y1="992.5" x2="2359.9" y2="992.5" stroke="#ebebeb" stroke-width="2" />
<line x1="1868" y1="1029.13" x2="2359.9" y2="1029.13" stroke="#ebebeb" stroke-width="2" />
<line x1="1868" y1="1065.76" x2="2359.9" y2="1065.76" stroke="#ebebeb" stroke-width="2" />
<line x1="1868" y1="1102.39" x2="2359.9" y2="1102.39" stroke="#ebebeb" stroke-width="2" />
<line x1="1868" y1="1139.02" x2="2359.9" y2="1139.02" stroke="#ebebeb" stroke-width="2" />
<line x1="1868" y1="1175.65" x2="2359.9" y2="1175.65" stroke="#ebebeb" stroke-width="2" />
<line x1="1868" y1="1212.28" x2="2359.9" y2="1212.28" stroke="#ebebeb" stroke-width="2" />
<line x1="1868" y1="1248.91" x2="2359.9" y2="1248.91" stroke="#ebebeb" stroke-width="2" />
<line x1="1868" y1="1285.54" x2="2359.9" y2="1285.54" stroke="#ebebeb" stroke-width="2" />
<line x1="1868" y1="1322.17" x2="2359.9" y2="1322.17" stroke="#ebebeb" stroke-width="2" />
<line x1="1868" y1="1358.8" x2="2359.9" y2="1358.8" stroke="#ebebeb" stroke-width="2" />
<line x1="1868" y1="1395.43" x2="2359.9" y2="1395.43" stroke="#ebebeb" stroke-width="2" />
<rect x="1869.5" y="979.7" width="326.43" height="11" fill="#d0303a" />
<rect x="1869.5" y="994.3" width="246.36" height="11" fill="#cad5ec" />
<text x="1860" y="997.5" font-family='"Liberation Sans", Arial, sans-serif' font-size="13.2" font-weight="400" fill="#3a3a3a" text-anchor="end" >Under $15,000</text>
<rect x="1869.5" y="1016.33" width="251.83" height="11" fill="#d0303a" />
<rect x="1869.5" y="1030.93" width="221.49" height="11" fill="#cad5ec" />
<text x="1860" y="1034.13" font-family='"Liberation Sans", Arial, sans-serif' font-size="13.2" font-weight="400" fill="#3a3a3a" text-anchor="end" >$15,000 - $24,999</text>
<rect x="1869.5" y="1052.96" width="249.37" height="11" fill="#d0303a" />
<rect x="1869.5" y="1067.56" width="237.07" height="11" fill="#cad5ec" />
<text x="1860" y="1070.76" font-family='"Liberation Sans", Arial, sans-serif' font-size="13.2" font-weight="400" fill="#3a3a3a" text-anchor="end" >$25,000 - $34,999</text>
<rect x="1869.5" y="1089.59" width="332.99" height="11" fill="#d0303a" />
<rect x="1869.5" y="1104.19" width="352.39" height="11" fill="#cad5ec" />
<text x="1860" y="1107.39" font-family='"Liberation Sans", Arial, sans-serif' font-size="13.2" font-weight="400" fill="#3a3a3a" text-anchor="end" >$35,000 - $49,999</text>
<rect x="1869.5" y="1126.22" width="454.87" height="11" fill="#d0303a" />
<rect x="1869.5" y="1140.82" width="482.75" height="11" fill="#cad5ec" />
<text x="1860" y="1144.02" font-family='"Liberation Sans", Arial, sans-serif' font-size="13.2" font-weight="400" fill="#3a3a3a" text-anchor="end" >$50,000 - $74,999</text>
<rect x="1869.5" y="1162.85" width="322.61" height="11" fill="#d0303a" />
<rect x="1869.5" y="1177.45" width="347.48" height="11" fill="#cad5ec" />
<text x="1860" y="1180.65" font-family='"Liberation Sans", Arial, sans-serif' font-size="13.2" font-weight="400" fill="#3a3a3a" text-anchor="end" >$75,000 - $99,999</text>
<rect x="1869.5" y="1199.48" width="229.69" height="11" fill="#d0303a" />
<rect x="1869.5" y="1214.08" width="254.29" height="11" fill="#cad5ec" />
<text x="1860" y="1217.28" font-family='"Liberation Sans", Arial, sans-serif' font-size="13.2" font-weight="400" fill="#3a3a3a" text-anchor="end" >$100,000 - $124,999</text>
<rect x="1869.5" y="1236.11" width="158.09" height="11" fill="#d0303a" />
<rect x="1869.5" y="1250.71" width="172.85" height="11" fill="#cad5ec" />
<text x="1860" y="1253.91" font-family='"Liberation Sans", Arial, sans-serif' font-size="13.2" font-weight="400" fill="#3a3a3a" text-anchor="end" >$125,000 - $149,999</text>
<rect x="1869.5" y="1272.74" width="163.29" height="11" fill="#d0303a" />
<rect x="1869.5" y="1287.34" width="173.67" height="11" fill="#cad5ec" />
<text x="1860" y="1290.54" font-family='"Liberation Sans", Arial, sans-serif' font-size="13.2" font-weight="400" fill="#3a3a3a" text-anchor="end" >$150,000 - $199,999</text>
<rect x="1869.5" y="1309.37" width="85.95" height="11" fill="#d0303a" />
<rect x="1869.5" y="1323.97" width="88.41" height="11" fill="#cad5ec" />
<text x="1860" y="1327.17" font-family='"Liberation Sans", Arial, sans-serif' font-size="13.2" font-weight="400" fill="#3a3a3a" text-anchor="end" >$200,000 - $249,999</text>
<rect x="1869.5" y="1346" width="97.43" height="11" fill="#d0303a" />
<rect x="1869.5" y="1360.6" width="94.97" height="11" fill="#cad5ec" />
<text x="1860" y="1363.8" font-family='"Liberation Sans", Arial, sans-serif' font-size="13.2" font-weight="400" fill="#3a3a3a" text-anchor="end" >$250,000 - $499,999</text>
<rect x="1869.5" y="1382.63" width="56.16" height="11" fill="#d0303a" />
<rect x="1869.5" y="1397.23" width="52.06" height="11" fill="#cad5ec" />
<text x="1860" y="1400.43" font-family='"Liberation Sans", Arial, sans-serif' font-size="13.2" font-weight="400" fill="#3a3a3a" text-anchor="end" >$500,000+</text>
<line x1="1868" y1="974" x2="1868" y2="1413" stroke="#ebebeb" stroke-width="2" />
<line x1="1868" y1="1412" x2="2359.9" y2="1412" stroke="#ebebeb" stroke-width="2" />
<line x1="1868" y1="1412" x2="1868" y2="1418" stroke="#ebebeb" stroke-width="2" />
<text x="1868" y="1434.7" font-family='"Liberation Sans", Arial, sans-serif' font-size="13.5" font-weight="400" fill="#3a3a3a" text-anchor="middle" >0</text>
<line x1="1922.66" y1="1412" x2="1922.66" y2="1418" stroke="#ebebeb" stroke-width="2" />
<text x="1922.66" y="1434.7" font-family='"Liberation Sans", Arial, sans-serif' font-size="13.5" font-weight="400" fill="#3a3a3a" text-anchor="middle" >2</text>
<line x1="1977.31" y1="1412" x2="1977.31" y2="1418" stroke="#ebebeb" stroke-width="2" />
<text x="1977.31" y="1434.7" font-family='"Liberation Sans", Arial, sans-serif' font-size="13.5" font-weight="400" fill="#3a3a3a" text-anchor="middle" >4</text>
<line x1="2031.97" y1="1412" x2="2031.97" y2="1418" stroke="#ebebeb" stroke-width="2" />
<text x="2031.97" y="1434.7" font-family='"Liberation Sans", Arial, sans-serif' font-size="13.5" font-weight="400" fill="#3a3a3a" text-anchor="middle" >6</text>
<line x1="2086.62" y1="1412" x2="2086.62" y2="1418" stroke="#ebebeb" stroke-width="2" />
<text x="2086.62" y="1434.7" font-family='"Liberation Sans", Arial, sans-serif' font-size="13.5" font-weight="400" fill="#3a3a3a" text-anchor="middle" >8</text>
<line x1="2141.28" y1="1412" x2="2141.28" y2="1418" stroke="#ebebeb" stroke-width="2" />
<text x="2141.28" y="1434.7" font-family='"Liberation Sans", Arial, sans-serif' font-size="13.5" font-weight="400" fill="#3a3a3a" text-anchor="middle" >10</text>
<line x1="2195.93" y1="1412" x2="2195.93" y2="1418" stroke="#ebebeb" stroke-width="2" />
<text x="2195.93" y="1434.7" font-family='"Liberation Sans", Arial, sans-serif' font-size="13.5" font-weight="400" fill="#3a3a3a" text-anchor="middle" >12</text>
<line x1="2250.59" y1="1412" x2="2250.59" y2="1418" stroke="#ebebeb" stroke-width="2" />
<text x="2250.59" y="1434.7" font-family='"Liberation Sans", Arial, sans-serif' font-size="13.5" font-weight="400" fill="#3a3a3a" text-anchor="middle" >14</text>
<line x1="2305.24" y1="1412" x2="2305.24" y2="1418" stroke="#ebebeb" stroke-width="2" />
<text x="2305.24" y="1434.7" font-family='"Liberation Sans", Arial, sans-serif' font-size="13.5" font-weight="400" fill="#3a3a3a" text-anchor="middle" >16</text>
<line x1="2359.9" y1="1412" x2="2359.9" y2="1418" stroke="#ebebeb" stroke-width="2" />
<text x="2359.9" y="1434.7" font-family='"Liberation Sans", Arial, sans-serif' font-size="13.5" font-weight="400" fill="#3a3a3a" text-anchor="middle" >18</text>
<rect x="2394" y="828" width="86" height="14" fill="#c45142" />
<rect x="2480" y="827.8" width="865.6" height="1.1" fill="#b44a4e" />
<text x="2394.3" y="885" font-family='"Liberation Sans", Arial, sans-serif' font-size="21.5" font-weight="700" fill="#1a1a1a" text-anchor="start" letter-spacing="0.07" stroke="#1a1a1a" stroke-width="0.5" >Education Level</text>
<line x1="2512.6" y1="981.4" x2="3334.5" y2="981.4" stroke="#ebebeb" stroke-width="2" />
<line x1="2512.6" y1="1070.3" x2="3334.5" y2="1070.3" stroke="#ebebeb" stroke-width="2" />
<line x1="2512.6" y1="1160" x2="3334.5" y2="1160" stroke="#ebebeb" stroke-width="2" />
<line x1="2512.6" y1="1249" x2="3334.5" y2="1249" stroke="#ebebeb" stroke-width="2" />
<line x1="2512.6" y1="1337.2" x2="3334.5" y2="1337.2" stroke="#ebebeb" stroke-width="2" />
<line x1="2520" y1="981.4" x2="2520" y2="1344" stroke="#ebebeb" stroke-width="2" />
<text x="2451" y="990.5" font-family='"Liberation Sans", Arial, sans-serif' font-size="13.2" font-weight="400" fill="#3a3a3a" text-anchor="end" >2,000,000</text>
<text x="2451" y="1096.8" font-family='"Liberation Sans", Arial, sans-serif' font-size="13.2" font-weight="400" fill="#3a3a3a" text-anchor="end" >1,500,000</text>
<text x="2451" y="1203" font-family='"Liberation Sans", Arial, sans-serif' font-size="13.2" font-weight="400" fill="#3a3a3a" text-anchor="end" >1,000,000</text>
<text x="2451" y="1312" font-family='"Liberation Sans", Arial, sans-serif' font-size="13.2" font-weight="400" fill="#3a3a3a" text-anchor="end" >500,000</text>
<text x="2446.5" y="1419.2" font-family='"Liberation Sans", Arial, sans-serif' font-size="13.2" font-weight="400" fill="#3a3a3a" text-anchor="end" >0</text>
<rect x="2533.6" y="1305.9" width="65.9" height="31.3" fill="#f3d3d3" />
<rect x="2622.9" y="1272" width="66.7" height="32.2" fill="#f0c6c6" />
<rect x="2713.5" y="1181.1" width="66.7" height="90.6" fill="#e9b7b6" />
<rect x="2804" y="1129.6" width="66.8" height="49.8" fill="#e4a6a4" />
<rect x="2893.9" y="1098.8" width="67.1" height="30" fill="#dd9391" />
<rect x="2984" y="1032" width="68" height="65.5" fill="#d8807c" />
<rect x="3074.6" y="1006.5" width="67.1" height="24.3" fill="#d06c68" />
<rect x="3165" y="996.2" width="67" height="9.1" fill="#c95551" />
<rect x="3255" y="992" width="67.9" height="3.8" fill="#c24c48" />
<line x1="2565.25" y1="1337.2" x2="2565.25" y2="1344" stroke="#ebebeb" stroke-width="2" />
<text x="2558.25" y="1367.6" font-family='"Liberation Sans", Arial, sans-serif' font-size="13.4" font-weight="400" fill="#3a3a3a" text-anchor="middle" >Less than 9th Grade</text>
<line x1="2655.75" y1="1337.2" x2="2655.75" y2="1344" stroke="#ebebeb" stroke-width="2" />
<text x="2652.75" y="1400.6" font-family='"Liberation Sans", Arial, sans-serif' font-size="13.4" font-weight="400" fill="#3a3a3a" text-anchor="middle" >Some High School, No Diploma</text>
<line x1="2746.25" y1="1337.2" x2="2746.25" y2="1344" stroke="#ebebeb" stroke-width="2" />
<text x="2744.25" y="1367.6" font-family='"Liberation Sans", Arial, sans-serif' font-size="13.4" font-weight="400" fill="#3a3a3a" text-anchor="middle" >High School Grad</text>
<line x1="2836.75" y1="1337.2" x2="2836.75" y2="1344" stroke="#ebebeb" stroke-width="2" />
<text x="2836.75" y="1400.6" font-family='"Liberation Sans", Arial, sans-serif' font-size="13.4" font-weight="400" fill="#3a3a3a" text-anchor="middle" >Some College, No Degree</text>
<line x1="2927.25" y1="1337.2" x2="2927.25" y2="1344" stroke="#ebebeb" stroke-width="2" />
<text x="2932.25" y="1367.6" font-family='"Liberation Sans", Arial, sans-serif' font-size="13.4" font-weight="400" fill="#3a3a3a" text-anchor="middle" >Associate Degree</text>
<line x1="3017.75" y1="1337.2" x2="3017.75" y2="1344" stroke="#ebebeb" stroke-width="2" />
<text x="3022.75" y="1400.6" font-family='"Liberation Sans", Arial, sans-serif' font-size="13.4" font-weight="400" fill="#3a3a3a" text-anchor="middle" >Bachelor&#39;s Degree</text>
<line x1="3108.25" y1="1337.2" x2="3108.25" y2="1344" stroke="#ebebeb" stroke-width="2" />
<text x="3109.25" y="1367.6" font-family='"Liberation Sans", Arial, sans-serif' font-size="13.4" font-weight="400" fill="#3a3a3a" text-anchor="middle" >Master&#39;s Degree</text>
<line x1="3198.75" y1="1337.2" x2="3198.75" y2="1344" stroke="#ebebeb" stroke-width="2" />
<text x="3203.25" y="1400.6" font-family='"Liberation Sans", Arial, sans-serif' font-size="13.4" font-weight="400" fill="#3a3a3a" text-anchor="middle" >Professional Degree</text>
<line x1="3289.25" y1="1337.2" x2="3289.25" y2="1344" stroke="#ebebeb" stroke-width="2" />
<text x="3287.25" y="1367.6" font-family='"Liberation Sans", Arial, sans-serif' font-size="13.4" font-weight="400" fill="#3a3a3a" text-anchor="middle" >Doctorate Degree</text>
<rect x="1738" y="1468.5" width="60" height="14" fill="#c45142" />
<rect x="1798" y="1468.3" width="575.4" height="1.1" fill="#b44a4e" />
<text x="1738.3" y="1515.5" font-family='"Liberation Sans", Arial, sans-serif' font-size="21.5" font-weight="700" fill="#1a1a1a" text-anchor="start" letter-spacing="0.07" stroke="#1a1a1a" stroke-width="0.5" >Unemployment Rate</text>
<line x1="1757" y1="1619.5" x2="2356" y2="1619.5" stroke="#ebebeb" stroke-width="2" />
<text x="1754.4" y="1624.5" font-family='"Liberation Sans", Arial, sans-serif' font-size="13.5" font-weight="400" fill="#3a3a3a" text-anchor="end" >12</text>
<line x1="1757" y1="1691.2" x2="2356" y2="1691.2" stroke="#ebebeb" stroke-width="2" />
<text x="1754.4" y="1696.2" font-family='"Liberation Sans", Arial, sans-serif' font-size="13.5" font-weight="400" fill="#3a3a3a" text-anchor="end" >10</text>
<line x1="1757" y1="1762.9" x2="2356" y2="1762.9" stroke="#ebebeb" stroke-width="2" />
<text x="1754.4" y="1767.9" font-family='"Liberation Sans", Arial, sans-serif' font-size="13.5" font-weight="400" fill="#3a3a3a" text-anchor="end" >8</text>
<line x1="1757" y1="1834.6" x2="2356" y2="1834.6" stroke="#ebebeb" stroke-width="2" />
<text x="1754.4" y="1839.6" font-family='"Liberation Sans", Arial, sans-serif' font-size="13.5" font-weight="400" fill="#3a3a3a" text-anchor="end" >6</text>
<line x1="1757" y1="1906.3" x2="2356" y2="1906.3" stroke="#ebebeb" stroke-width="2" />
<text x="1754.4" y="1911.3" font-family='"Liberation Sans", Arial, sans-serif' font-size="13.5" font-weight="400" fill="#3a3a3a" text-anchor="end" >4</text>
<line x1="1757" y1="1978" x2="2356" y2="1978" stroke="#ebebeb" stroke-width="2" />
<text x="1754.4" y="1983" font-family='"Liberation Sans", Arial, sans-serif' font-size="13.5" font-weight="400" fill="#3a3a3a" text-anchor="end" >2</text>
<line x1="1757" y1="2049.7" x2="2356" y2="2049.7" stroke="#ebebeb" stroke-width="2" />
<text x="1754.4" y="2054.7" font-family='"Liberation Sans", Arial, sans-serif' font-size="13.5" font-weight="400" fill="#3a3a3a" text-anchor="end" >0</text>
<line x1="1765" y1="1619.5" x2="1765" y2="2055.7" stroke="#efefef" stroke-width="2" />
<line x1="1765" y1="2049.7" x2="1765" y2="2055.7" stroke="#efefef" stroke-width="2" />
<text x="1765" y="2072.4" font-family='"Liberation Sans", Arial, sans-serif' font-size="13.5" font-weight="400" fill="#3a3a3a" text-anchor="middle" >2009</text>
<line x1="1810.06" y1="2049.7" x2="1810.06" y2="2055.7" stroke="#efefef" stroke-width="2" />
<text x="1810.06" y="2072.4" font-family='"Liberation Sans", Arial, sans-serif' font-size="13.5" font-weight="400" fill="#3a3a3a" text-anchor="middle" >2010</text>
<line x1="1855.12" y1="2049.7" x2="1855.12" y2="2055.7" stroke="#efefef" stroke-width="2" />
<text x="1855.12" y="2072.4" font-family='"Liberation Sans", Arial, sans-serif' font-size="13.5" font-weight="400" fill="#3a3a3a" text-anchor="middle" >2011</text>
<line x1="1900.18" y1="2049.7" x2="1900.18" y2="2055.7" stroke="#efefef" stroke-width="2" />
<text x="1900.18" y="2072.4" font-family='"Liberation Sans", Arial, sans-serif' font-size="13.5" font-weight="400" fill="#3a3a3a" text-anchor="middle" >2012</text>
<line x1="1945.25" y1="2049.7" x2="1945.25" y2="2055.7" stroke="#efefef" stroke-width="2" />
<text x="1945.25" y="2072.4" font-family='"Liberation Sans", Arial, sans-serif' font-size="13.5" font-weight="400" fill="#3a3a3a" text-anchor="middle" >2013</text>
<line x1="1990.31" y1="2049.7" x2="1990.31" y2="2055.7" stroke="#efefef" stroke-width="2" />
<text x="1990.31" y="2072.4" font-family='"Liberation Sans", Arial, sans-serif' font-size="13.5" font-weight="400" fill="#3a3a3a" text-anchor="middle" >2014</text>
<line x1="2035.37" y1="2049.7" x2="2035.37" y2="2055.7" stroke="#efefef" stroke-width="2" />
<text x="2035.37" y="2072.4" font-family='"Liberation Sans", Arial, sans-serif' font-size="13.5" font-weight="400" fill="#3a3a3a" text-anchor="middle" >2015</text>
<line x1="2080.43" y1="2049.7" x2="2080.43" y2="2055.7" stroke="#efefef" stroke-width="2" />
<text x="2080.43" y="2072.4" font-family='"Liberation Sans", Arial, sans-serif' font-size="13.5" font-weight="400" fill="#3a3a3a" text-anchor="middle" >2016</text>
<line x1="2125.49" y1="2049.7" x2="2125.49" y2="2055.7" stroke="#efefef" stroke-width="2" />
<text x="2125.49" y="2072.4" font-family='"Liberation Sans", Arial, sans-serif' font-size="13.5" font-weight="400" fill="#3a3a3a" text-anchor="middle" >2017</text>
<line x1="2170.55" y1="2049.7" x2="2170.55" y2="2055.7" stroke="#efefef" stroke-width="2" />
<text x="2170.55" y="2072.4" font-family='"Liberation Sans", Arial, sans-serif' font-size="13.5" font-weight="400" fill="#3a3a3a" text-anchor="middle" >2018</text>
<line x1="2215.62" y1="2049.7" x2="2215.62" y2="2055.7" stroke="#efefef" stroke-width="2" />
<text x="2215.62" y="2072.4" font-family='"Liberation Sans", Arial, sans-serif' font-size="13.5" font-weight="400" fill="#3a3a3a" text-anchor="middle" >2019</text>
<line x1="2260.68" y1="2049.7" x2="2260.68" y2="2055.7" stroke="#efefef" stroke-width="2" />
<text x="2260.68" y="2072.4" font-family='"Liberation Sans", Arial, sans-serif' font-size="13.5" font-weight="400" fill="#3a3a3a" text-anchor="middle" >2020</text>
<line x1="2305.74" y1="2049.7" x2="2305.74" y2="2055.7" stroke="#efefef" stroke-width="2" />
<text x="2305.74" y="2072.4" font-family='"Liberation Sans", Arial, sans-serif' font-size="13.5" font-weight="400" fill="#3a3a3a" text-anchor="middle" >2021</text>
<line x1="2350.8" y1="2049.7" x2="2350.8" y2="2055.7" stroke="#efefef" stroke-width="2" />
<text x="2350.8" y="2072.4" font-family='"Liberation Sans", Arial, sans-serif' font-size="13.5" font-weight="400" fill="#3a3a3a" text-anchor="middle" >2022</text>
<path d="M1765,1724.9 C1780.02,1693.47 1795.04,1630.61 1810.06,1630.61 C1825.08,1630.61 1840.1,1679.79 1855.12,1702.31 C1870.14,1724.84 1885.16,1755.66 1900.18,1765.77 C1915.21,1775.88 1930.23,1771.82 1945.25,1777.24 C1960.27,1782.66 1975.29,1796.78 1990.31,1805.92 C2005.33,1815.06 2020.35,1823.9 2035.37,1832.09 C2050.39,1840.28 2065.41,1847.69 2080.43,1855.03 C2095.45,1862.38 2110.47,1865.91 2125.49,1876.19 C2140.51,1886.46 2155.53,1905.22 2170.55,1916.7 C2185.57,1928.17 2200.59,1945.02 2215.62,1945.02 C2230.64,1945.02 2245.66,1749.28 2260.68,1749.28 C2275.7,1749.28 2290.72,1807.47 2305.74,1841.77 C2320.76,1876.07 2335.78,1917.29 2350.8,1955.06" fill="none" stroke="#c2453f" stroke-width="5" stroke-linejoin="round" stroke-linecap="round" />
<rect x="2394" y="1468.8" width="86" height="14" fill="#c45142" />
<rect x="2480" y="1468.6" width="865.6" height="1.1" fill="#b44a4e" />
<text x="2394.3" y="1514.7" font-family='"Liberation Sans", Arial, sans-serif' font-size="21.5" font-weight="700" fill="#1a1a1a" text-anchor="start" letter-spacing="0.07" stroke="#1a1a1a" stroke-width="0.5" >Education Level</text>
<rect x="2395.1" y="1623.9" width="949.8" height="454.6" fill="none" stroke="#000" stroke-width="3"/>
<line x1="2440" y1="1666.8" x2="3327" y2="1666.8" stroke="#ebebeb" stroke-width="2" />
<text x="2432.7" y="1671.8" font-family='"Liberation Sans", Arial, sans-serif' font-size="13.5" font-weight="400" fill="#3a3a3a" text-anchor="end" >5000</text>
<line x1="2440" y1="1743.54" x2="3327" y2="1743.54" stroke="#ebebeb" stroke-width="2" />
<text x="2432.7" y="1748.54" font-family='"Liberation Sans", Arial, sans-serif' font-size="13.5" font-weight="400" fill="#3a3a3a" text-anchor="end" >4000</text>
<line x1="2440" y1="1820.28" x2="3327" y2="1820.28" stroke="#ebebeb" stroke-width="2" />
<text x="2432.7" y="1825.28" font-family='"Liberation Sans", Arial, sans-serif' font-size="13.5" font-weight="400" fill="#3a3a3a" text-anchor="end" >3000</text>
<line x1="2440" y1="1897.02" x2="3327" y2="1897.02" stroke="#ebebeb" stroke-width="2" />
<text x="2432.7" y="1902.02" font-family='"Liberation Sans", Arial, sans-serif' font-size="13.5" font-weight="400" fill="#3a3a3a" text-anchor="end" >2000</text>
<line x1="2440" y1="1973.76" x2="3327" y2="1973.76" stroke="#ebebeb" stroke-width="2" />
<text x="2432.7" y="1978.76" font-family='"Liberation Sans", Arial, sans-serif' font-size="13.5" font-weight="400" fill="#3a3a3a" text-anchor="end" >1000</text>
<line x1="2440" y1="2050.5" x2="3327" y2="2050.5" stroke="#ebebeb" stroke-width="2" />
<text x="2432.7" y="2055.5" font-family='"Liberation Sans", Arial, sans-serif' font-size="13.5" font-weight="400" fill="#3a3a3a" text-anchor="end" >0</text>
<line x1="2448.8" y1="1666.8" x2="2448.8" y2="2056.5" stroke="#efefef" stroke-width="2" />
<line x1="2450" y1="2050.5" x2="2450" y2="2056.5" stroke="#efefef" stroke-width="2" />
<text x="2450" y="2075.2" font-family='"Liberation Sans", Arial, sans-serif' font-size="12.6" font-weight="400" fill="#3a3a3a" text-anchor="middle" >2010</text>
<line x1="2522.67" y1="2050.5" x2="2522.67" y2="2056.5" stroke="#efefef" stroke-width="2" />
<text x="2522.67" y="2075.2" font-family='"Liberation Sans", Arial, sans-serif' font-size="12.6" font-weight="400" fill="#3a3a3a" text-anchor="middle" >2011</text>
<line x1="2595.33" y1="2050.5" x2="2595.33" y2="2056.5" stroke="#efefef" stroke-width="2" />
<text x="2595.33" y="2075.2" font-family='"Liberation Sans", Arial, sans-serif' font-size="12.6" font-weight="400" fill="#3a3a3a" text-anchor="middle" >2012</text>
<line x1="2668" y1="2050.5" x2="2668" y2="2056.5" stroke="#efefef" stroke-width="2" />
<text x="2668" y="2075.2" font-family='"Liberation Sans", Arial, sans-serif' font-size="12.6" font-weight="400" fill="#3a3a3a" text-anchor="middle" >2013</text>
<line x1="2740.67" y1="2050.5" x2="2740.67" y2="2056.5" stroke="#efefef" stroke-width="2" />
<text x="2740.67" y="2075.2" font-family='"Liberation Sans", Arial, sans-serif' font-size="12.6" font-weight="400" fill="#3a3a3a" text-anchor="middle" >2014</text>
<line x1="2813.33" y1="2050.5" x2="2813.33" y2="2056.5" stroke="#efefef" stroke-width="2" />
<text x="2813.33" y="2075.2" font-family='"Liberation Sans", Arial, sans-serif' font-size="12.6" font-weight="400" fill="#3a3a3a" text-anchor="middle" >2015</text>
<line x1="2886" y1="2050.5" x2="2886" y2="2056.5" stroke="#efefef" stroke-width="2" />
<text x="2886" y="2075.2" font-family='"Liberation Sans", Arial, sans-serif' font-size="12.6" font-weight="400" fill="#3a3a3a" text-anchor="middle" >2016</text>
<line x1="2958.67" y1="2050.5" x2="2958.67" y2="2056.5" stroke="#efefef" stroke-width="2" />
<text x="2958.67" y="2075.2" font-family='"Liberation Sans", Arial, sans-serif' font-size="12.6" font-weight="400" fill="#3a3a3a" text-anchor="middle" >2017</text>
<line x1="3031.33" y1="2050.5" x2="3031.33" y2="2056.5" stroke="#efefef" stroke-width="2" />
<text x="3031.33" y="2075.2" font-family='"Liberation Sans", Arial, sans-serif' font-size="12.6" font-weight="400" fill="#3a3a3a" text-anchor="middle" >2018</text>
<line x1="3104" y1="2050.5" x2="3104" y2="2056.5" stroke="#efefef" stroke-width="2" />
<text x="3104" y="2075.2" font-family='"Liberation Sans", Arial, sans-serif' font-size="12.6" font-weight="400" fill="#3a3a3a" text-anchor="middle" >2019</text>
<line x1="3176.67" y1="2050.5" x2="3176.67" y2="2056.5" stroke="#efefef" stroke-width="2" />
<text x="3176.67" y="2075.2" font-family='"Liberation Sans", Arial, sans-serif' font-size="12.6" font-weight="400" fill="#3a3a3a" text-anchor="middle" >2020</text>
<line x1="3249.33" y1="2050.5" x2="3249.33" y2="2056.5" stroke="#efefef" stroke-width="2" />
<text x="3249.33" y="2075.2" font-family='"Liberation Sans", Arial, sans-serif' font-size="12.6" font-weight="400" fill="#3a3a3a" text-anchor="middle" >2021</text>
<line x1="3322" y1="2050.5" x2="3322" y2="2056.5" stroke="#efefef" stroke-width="2" />
<text x="3322" y="2075.2" font-family='"Liberation Sans", Arial, sans-serif' font-size="12.6" font-weight="400" fill="#3a3a3a" text-anchor="middle" >2022</text>
<text x="2868" y="1803.5" font-family='"Liberation Sans", Arial, sans-serif' font-size="13.5" font-weight="700" fill="#444" text-anchor="middle" >PLACEHOLDER FOR CHANGE IN EMPLOYMENT MARKET</text>
<path d="M2450,1940.53 C2474.22,1956.01 2498.44,1986.96 2522.67,1986.96 C2546.89,1986.96 2571.11,1951.26 2595.33,1941.76 C2619.56,1932.26 2643.78,1932.45 2668,1929.94 C2692.22,1927.43 2716.44,1926.72 2740.67,1926.72 C2764.89,1926.72 2789.11,1927.95 2813.33,1927.95 C2837.56,1927.95 2861.78,1916.81 2886,1913.52 C2910.22,1910.23 2934.44,1908.22 2958.67,1908.22 C2982.89,1908.22 3007.11,1908.57 3031.33,1909.45 C3055.56,1910.33 3079.78,1913.52 3104,1913.52 C3128.22,1913.52 3152.44,1907.41 3176.67,1903.31 C3200.89,1899.22 3225.11,1898.79 3249.33,1888.96 C3273.56,1879.14 3297.78,1859.24 3322,1844.38" fill="none" stroke="#b8202a" stroke-width="4.5" stroke-linejoin="round" stroke-linecap="round" />
</svg>
<div style="position:absolute;left:59px;top:1270.41px;width:546px;font-family:'Liberation Serif', 'Times New Roman', serif;font-size:29px;line-height:29px;font-weight:700;color:#000;"><div style="height:29px;white-space:pre;word-spacing:5.662px;">California has nearly 30% of homeless</div><div style="height:29px;white-space:pre;word-spacing:2.427px;">population of the United states with less</div><div style="height:29px;white-space:pre;">than 12% of country’s total population.</div></div>
<div style="position:absolute;left:60px;top:1387.15px;width:550px;font-family:'Liberation Serif', 'Times New Roman', serif;font-size:27.7px;line-height:28.8px;font-weight:400;color:#000;"><div style="height:28.8px;white-space:pre;padding-left:28px;word-spacing:6.897px;">Lorem ipsum dolor sit amet, consectetur</div><div style="height:28.8px;white-space:pre;">adipiscing elit, sed do eiusmod tempor incidi</div><div style="height:28.8px;white-space:pre;word-spacing:-0.932px;">dunt ut labore et dolore magna aliqua. Ut enim</div><div style="height:28.8px;white-space:pre;word-spacing:5.728px;">ad minim veniam, quis nostrud exercitation</div><div style="height:28.8px;white-space:pre;word-spacing:-0.413px;">ullamco laboris nisi ut aliquip ex ea commodo</div><div style="height:28.8px;white-space:pre;">consequat. Duis aute irure dolor in reprehen</div><div style="height:28.8px;white-space:pre;word-spacing:3.326px;">derit in voluptate velit esse cillum dolore eu</div><div style="height:28.8px;white-space:pre;word-spacing:3.291px;">fugiat nulla pariatur. Excepteur sint occaecat</div><div style="height:28.8px;white-space:pre;word-spacing:10.539px;">cupidatat non proident, sunt in culpa qui</div><div style="height:28.8px;white-space:pre;word-spacing:4.987px;">officia deserunt mollit anim id est laborum.</div><div style="height:28.8px;white-space:pre;word-spacing:12.497px;">Lorem ipsum dolor sit amet, consectetur</div><div style="height:28.8px;white-space:pre;">adipiscing elit, sed do eiusmod tempor incidi</div><div style="height:28.8px;white-space:pre;word-spacing:-0.932px;">dunt ut labore et dolore magna aliqua. Ut enim</div><div style="height:28.8px;white-space:pre;word-spacing:15.422px;">minim veniam, quis nostrud exercitation</div><div style="height:28.8px;white-space:pre;word-spacing:-0.413px;">ullamco laboris nisi ut aliquip ex ea commodo</div><div style="height:28.8px;white-space:pre;">consequat. Duis aute irure dolor in reprehen</div><div style="height:28.8px;white-space:pre;word-spacing:3.326px;">derit in voluptate velit esse cillum dolore eu</div><div style="height:28.8px;white-space:pre;word-spacing:3.291px;">fugiat nulla pariatur. Excepteur sint occaecat</div><div style="height:28.8px;white-space:pre;word-spacing:10.539px;">cupidatat non proident, sunt in culpa qui</div><div style="height:28.8px;white-space:pre;">officia deserunt mollit anim id est laborum.</div><div style="height:28.8px;white-space:pre;padding-left:28px;word-spacing:6.897px;">Lorem ipsum dolor sit amet, consectetur</div><div style="height:28.8px;white-space:pre;">adipiscing elit, sed do eiusmod tempor incidi</div><div style="height:28.8px;white-space:pre;word-spacing:-0.932px;">dunt ut labore et dolore magna aliqua. Ut enim</div><div style="height:28.8px;white-space:pre;word-spacing:5.728px;">ad minim veniam, quis nostrud exercitation</div></div>
<div style="position:absolute;left:614.5px;top:1501.45px;width:550.5px;font-family:'Liberation Serif', 'Times New Roman', serif;font-size:27.7px;line-height:28.8px;font-weight:400;color:#000;"><div style="height:28.8px;white-space:pre;word-spacing:15.547px;">minim veniam, quis nostrud exercitation</div><div style="height:28.8px;white-space:pre;word-spacing:-0.342px;">ullamco laboris nisi ut aliquip ex ea commodo</div><div style="height:28.8px;white-space:pre;">consequat. Duis aute irure dolor in reprehen</div><div style="height:28.8px;white-space:pre;word-spacing:3.397px;">derit in voluptate velit esse cillum dolore eu</div><div style="height:28.8px;white-space:pre;word-spacing:3.391px;">fugiat nulla pariatur. Excepteur sint occaecat</div><div style="height:28.8px;white-space:pre;word-spacing:10.622px;">cupidatat non proident, sunt in culpa qui</div><div style="height:28.8px;white-space:pre;">officia deserunt mollit anim id est laborum.</div><div style="height:28.8px;white-space:pre;padding-left:28px;word-spacing:6.997px;">Lorem ipsum dolor sit amet, consectetur</div><div style="height:28.8px;white-space:pre;">adipiscing elit, sed do eiusmod tempor incidi</div><div style="height:28.8px;white-space:pre;word-spacing:-0.869px;">dunt ut labore et dolore magna aliqua. Ut enim</div><div style="height:28.8px;white-space:pre;word-spacing:5.828px;">ad minim veniam, quis nostrud exercitation</div><div style="height:28.8px;white-space:pre;word-spacing:-0.342px;">ullamco laboris nisi ut aliquip ex ea commodo</div><div style="height:28.8px;white-space:pre;">consequat. Duis aute irure dolor in reprehen</div><div style="height:28.8px;white-space:pre;word-spacing:3.397px;">derit in voluptate velit esse cillum dolore eu</div><div style="height:28.8px;white-space:pre;word-spacing:3.391px;">fugiat nulla pariatur. Excepteur sint occaecat</div><div style="height:28.8px;white-space:pre;word-spacing:10.622px;">cupidatat non proident, sunt in culpa qui</div><div style="height:28.8px;white-space:pre;word-spacing:5.070px;">officia deserunt mollit anim id est laborum.</div><div style="height:28.8px;white-space:pre;word-spacing:12.597px;">Lorem ipsum dolor sit amet, consectetur</div><div style="height:28.8px;white-space:pre;">adipiscing elit, sed do eiusmod tempor incidi</div><div style="height:28.8px;white-space:pre;word-spacing:-0.869px;">dunt ut labore et dolore magna aliqua. Ut enim</div></div>
<div style="position:absolute;left:1146.5px;top:1504.25px;width:550px;font-family:'Liberation Serif', 'Times New Roman', serif;font-size:27.7px;line-height:28.8px;font-weight:400;color:#000;"><div style="height:28.8px;white-space:pre;word-spacing:15.422px;">minim veniam, quis nostrud exercitation</div><div style="height:28.8px;white-space:pre;word-spacing:-0.413px;">ullamco laboris nisi ut aliquip ex ea commodo</div><div style="height:28.8px;white-space:pre;">consequat. Duis aute irure dolor in reprehen</div><div style="height:28.8px;white-space:pre;word-spacing:3.326px;">derit in voluptate velit esse cillum dolore eu</div><div style="height:28.8px;white-space:pre;word-spacing:3.291px;">fugiat nulla pariatur. Excepteur sint occaecat</div><div style="height:28.8px;white-space:pre;word-spacing:10.539px;">cupidatat non proident, sunt in culpa qui</div><div style="height:28.8px;white-space:pre;">officia deserunt mollit anim id est laborum.</div><div style="height:28.8px;white-space:pre;padding-left:28px;word-spacing:6.897px;">Lorem ipsum dolor sit amet, consectetur</div><div style="height:28.8px;white-space:pre;">adipiscing elit, sed do eiusmod tempor incidi</div><div style="height:28.8px;white-space:pre;word-spacing:-0.932px;">dunt ut labore et dolore magna aliqua. Ut enim</div><div style="height:28.8px;white-space:pre;word-spacing:5.728px;">ad minim veniam, quis nostrud exercitation</div><div style="height:28.8px;white-space:pre;word-spacing:-0.413px;">ullamco laboris nisi ut aliquip ex ea commodo</div><div style="height:28.8px;white-space:pre;">consequat. Duis aute irure dolor in reprehen</div><div style="height:28.8px;white-space:pre;word-spacing:3.326px;">derit in voluptate velit esse cillum dolore eu</div><div style="height:28.8px;white-space:pre;word-spacing:3.291px;">fugiat nulla pariatur. Excepteur sint occaecat</div><div style="height:28.8px;white-space:pre;word-spacing:10.539px;">cupidatat non proident, sunt in culpa qui</div><div style="height:28.8px;white-space:pre;word-spacing:4.987px;">officia deserunt mollit anim id est laborum.</div><div style="height:28.8px;white-space:pre;word-spacing:12.497px;">Lorem ipsum dolor sit amet, consectetur</div><div style="height:28.8px;white-space:pre;">adipiscing elit, sed do eiusmod tempor incidi</div><div style="height:28.8px;white-space:pre;word-spacing:-0.932px;">dunt ut labore et dolore magna aliqua. Ut enim</div></div>
<div style="position:absolute;left:1739px;top:277.4px;width:1645px;font-family:'Liberation Serif', 'Times New Roman', serif;font-size:16.6px;line-height:20.2px;font-weight:400;color:#000;"><div style="height:20.2px;white-space:pre;word-spacing:-0.030px;">Lorem ipsum dolor sit amet, consectetuer adipiscing elit, sed diam nonummy nibh euismod tincidunt ut laoreet dolore magna aliquam erat volutpat. Ut wisi enim ad minim veniam, quis nostrud exerci tation ullamcorper suscipit lobortis nisl ut</div><div style="height:20.2px;white-space:pre;word-spacing:0.011px;">aliquip ex ea commodo consequat. Duis autem vel eum iriure dolor in hendrerit in vulputate velit esse molestie consequat, vel illum dolore eu feugiat nulla facilisis at vero eros et accumsan et iusto odio dignissim qui blandit praesent luptatum</div></div>
<div style="position:absolute;left:1737.7px;top:889.7px;width:666px;font-family:'Liberation Serif', 'Times New Roman', serif;font-size:16.6px;line-height:19.8px;font-weight:400;color:#000;"><div style="height:19.8px;white-space:pre;word-spacing:1.626px;">Lorem ipsum dolor sit amet, consectetuer adipiscing elit, sed diam nonummy nibh euismod</div><div style="height:19.8px;white-space:pre;word-spacing:0.738px;">tincidunt ut laoreet dolore magna aliquam erat volutpat. Ut wisi enim ad minim veniam, quis</div><div style="height:19.8px;white-space:pre;word-spacing:8.268px;">nostrud exerci tation ullamcorper suscipit lobortis nisl ut aliquip ex ea commodo</div><div style="height:19.8px;white-space:pre;word-spacing:4.928px;">quis nostrud exerci tation ullamcorper suscipit lobortis nisl ut aliquip ex ea commodo</div></div>
<div style="position:absolute;left:2394px;top:890.42px;width:991.5px;font-family:'Liberation Serif', 'Times New Roman', serif;font-size:16.6px;line-height:19.95px;font-weight:400;color:#000;"><div style="height:19.95px;white-space:pre;word-spacing:1.789px;">Lorem ipsum dolor sit amet, consectetuer adipiscing elit, sed diam nonummy nibh euismod tincidunt ut laoreet dolore magna aliquam erat</div><div style="height:19.95px;white-space:pre;word-spacing:5.666px;">volutpat. Ut wisi enim ad minim veniam, quis nostrud exerci tation ullamcorper suscipit lobortis nisl ut aliquip ex ea commodo</div><div style="height:19.95px;white-space:pre;word-spacing:32.053px;">quis nostrud exerci tation ullamcorper suscipit lobortis nisl ut aliquip ex ea commodo</div></div>
<div style="position:absolute;left:1738px;top:1521.45px;width:669px;font-family:'Liberation Serif', 'Times New Roman', serif;font-size:16.6px;line-height:19.9px;font-weight:400;color:#000;"><div style="height:19.9px;white-space:pre;word-spacing:1.876px;">Lorem ipsum dolor sit amet, consectetuer adipiscing elit, sed diam nonummy nibh euismod</div><div style="height:19.9px;white-space:pre;word-spacing:0.952px;">tincidunt ut laoreet dolore magna aliquam erat volutpat. Ut wisi enim ad minim veniam, quis</div><div style="height:19.9px;white-space:pre;word-spacing:1.609px;">nostrud exerci tation ullamcorper suscipit lobortis nisl ut aliquip ex ea commodo consequat.</div><div style="height:19.9px;white-space:pre;word-spacing:1.973px;">Duis autem vel eum iriure dolor in hendrerit in vulputate velit esse molestie consequat, vel</div></div>
<div style="position:absolute;left:2394px;top:1520.65px;width:991.5px;font-family:'Liberation Serif', 'Times New Roman', serif;font-size:16.6px;line-height:20.1px;font-weight:400;color:#000;"><div style="height:20.1px;white-space:pre;word-spacing:1.789px;">Lorem ipsum dolor sit amet, consectetuer adipiscing elit, sed diam nonummy nibh euismod tincidunt ut laoreet dolore magna aliquam erat</div><div style="height:20.1px;white-space:pre;word-spacing:5.666px;">volutpat. Ut wisi enim ad minim veniam, quis nostrud exerci tation ullamcorper suscipit lobortis nisl ut aliquip ex ea commodo</div><div style="height:20.1px;white-space:pre;word-spacing:32.053px;">quis nostrud exerci tation ullamcorper suscipit lobortis nisl ut aliquip ex ea commodo</div></div>
</body></html>
